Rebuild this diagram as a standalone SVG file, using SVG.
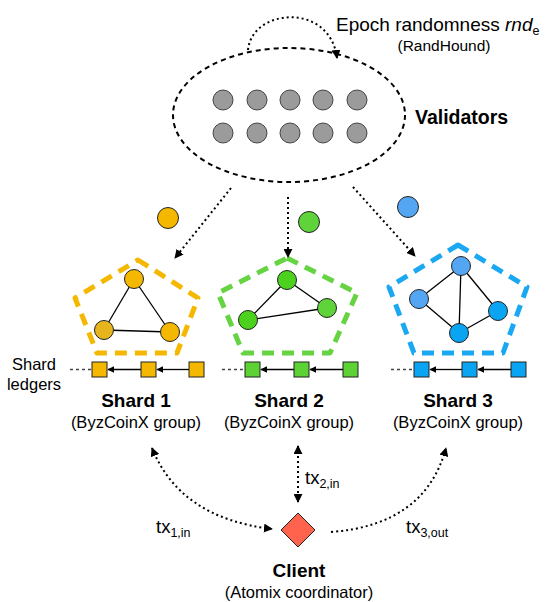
<svg xmlns="http://www.w3.org/2000/svg" width="552" height="602" viewBox="0 0 552 602">
<defs>
<marker id="ah" viewBox="0 0 10 10" refX="9" refY="5" markerWidth="9" markerHeight="9" markerUnits="userSpaceOnUse" orient="auto-start-reverse">
<path d="M0,0 L10,5 L0,10 z" fill="#000"/>
</marker>
<marker id="ahs" viewBox="0 0 10 10" refX="9" refY="5" markerWidth="7" markerHeight="7" markerUnits="userSpaceOnUse" orient="auto">
<path d="M0,0 L10,5 L0,10 z" fill="#000"/>
</marker>
</defs>
<style>
text{font-family:"Liberation Sans",Arial,Helvetica,sans-serif;fill:#000}
.b{font-weight:bold;font-size:19px}
.s{font-size:16.5px}
.dot{fill:none;stroke:#000;stroke-width:2;stroke-dasharray:2,3}
.val{fill:#9b9b9b;stroke:#444;stroke-width:1}
.n{stroke:#222;stroke-width:1}
.e{stroke:#000;stroke-width:1.3}
.pent{fill:none;stroke-width:5;stroke-dasharray:12,8;stroke-linejoin:round}
.sq{stroke:#222;stroke-width:1}
.lead{stroke:#444;stroke-width:1.3;stroke-dasharray:3,3}
.chain{stroke:#000;stroke-width:1.3}
.y{fill:#F5B800}
.g{fill:#5CD235}
.bl{fill:#0AA5F2}
</style>

<g id="validators">
<ellipse cx="289" cy="115" rx="116" ry="67" fill="none" stroke="#000" stroke-width="2" stroke-dasharray="5,4"/>
<circle class="val" cx="223" cy="100" r="10"/><circle class="val" cx="257" cy="100" r="10"/><circle class="val" cx="290" cy="100" r="10"/><circle class="val" cx="323" cy="100" r="10"/><circle class="val" cx="357" cy="100" r="10"/>
<circle class="val" cx="223" cy="133" r="10"/><circle class="val" cx="257" cy="133" r="10"/><circle class="val" cx="290" cy="133" r="10"/><circle class="val" cx="323" cy="133" r="10"/><circle class="val" cx="357" cy="133" r="10"/>
<text x="415" y="124" font-weight="bold" font-size="19.5">Validators</text>
</g>

<g id="epoch">
<text x="336" y="31" font-size="19">Epoch randomness <tspan font-style="italic">rnd</tspan><tspan font-size="12.5" dy="4">e</tspan></text>
<text x="444" y="51" font-size="15.5" text-anchor="middle">(RandHound)</text>
</g>

<g id="loose">
<circle cx="168" cy="218" r="10.5" class="n" fill="#F5B800"/>
<circle cx="309" cy="222" r="10.5" class="n" fill="#5FD33A"/>
<circle cx="408" cy="207" r="10.5" class="n" fill="#55A6F2"/>
</g>

<g id="shard1">
<polygon class="pent" stroke="#F5B800" points="138,260 198,298 177,353 97,353 75,298"/>
<line class="e" x1="134" y1="279" x2="104" y2="330"/><line class="e" x1="134" y1="279" x2="170" y2="332"/><line class="e" x1="104" y1="330" x2="170" y2="332"/>
<circle class="n" cx="134" cy="279" r="9.5" fill="#F5B800"/>
<circle class="n" cx="104" cy="330" r="9.5" fill="#E6B51E"/>
<circle class="n" cx="170" cy="332" r="9.5" fill="#F5B800"/>
<line class="lead" x1="70" y1="369.5" x2="91" y2="369.5"/>
<line class="chain" x1="189" y1="369.5" x2="157" y2="369.5" marker-end="url(#ahs)"/>
<line class="chain" x1="141" y1="369.5" x2="108" y2="369.5" marker-end="url(#ahs)"/>
<rect class="sq y" x="92" y="362" width="15" height="15"/><rect class="sq y" x="141" y="362" width="15" height="15"/><rect class="sq y" x="189" y="362" width="15" height="15"/>
<text x="136" y="407" class="b" text-anchor="middle">Shard 1</text>
<text x="136" y="428" class="s" text-anchor="middle">(ByzCoinX group)</text>
</g>

<g id="shard2">
<polygon class="pent" stroke="#66D343" points="287,258 357,293 330,353 243,353 218,293"/>
<line class="e" x1="287" y1="280" x2="248" y2="320"/><line class="e" x1="287" y1="280" x2="327" y2="308"/><line class="e" x1="248" y1="320" x2="327" y2="308"/>
<circle class="n" cx="287" cy="280" r="9.5" fill="#4CD21E"/>
<circle class="n" cx="327" cy="308" r="9.5" fill="#5FD33A"/>
<circle class="n" cx="248" cy="320" r="9.5" fill="#4CD21E"/>
<line class="lead" x1="222" y1="369.5" x2="244" y2="369.5"/>
<line class="chain" x1="343" y1="369.5" x2="310" y2="369.5" marker-end="url(#ahs)"/>
<line class="chain" x1="294" y1="369.5" x2="261" y2="369.5" marker-end="url(#ahs)"/>
<rect class="sq g" x="245" y="362" width="15" height="15"/><rect class="sq g" x="294" y="362" width="15" height="15"/><rect class="sq g" x="343" y="362" width="15" height="15"/>
<text x="289" y="407" class="b" text-anchor="middle">Shard 2</text>
<text x="289" y="428" class="s" text-anchor="middle">(ByzCoinX group)</text>
</g>

<g id="shard3">
<polygon class="pent" stroke="#1AA8F2" points="458,245 527,287 503,353 414,353 389,287"/>
<line class="e" x1="461" y1="266" x2="419" y2="299"/><line class="e" x1="461" y1="266" x2="459" y2="333"/><line class="e" x1="461" y1="266" x2="498" y2="311"/><line class="e" x1="419" y1="299" x2="459" y2="333"/><line class="e" x1="459" y1="333" x2="498" y2="311"/>
<circle class="n" cx="461" cy="266" r="9.5" fill="#55A6F2"/>
<circle class="n" cx="419" cy="299" r="9.5" fill="#55A6F2"/>
<circle class="n" cx="498" cy="311" r="9.5" fill="#0AA5F2"/>
<circle class="n" cx="459" cy="333" r="9.5" fill="#0AA5F2"/>
<line class="lead" x1="391" y1="369.5" x2="413" y2="369.5"/>
<line class="chain" x1="511" y1="369.5" x2="478" y2="369.5" marker-end="url(#ahs)"/>
<line class="chain" x1="462" y1="369.5" x2="430" y2="369.5" marker-end="url(#ahs)"/>
<rect class="sq bl" x="414" y="362" width="15" height="15"/><rect class="sq bl" x="462" y="362" width="15" height="15"/><rect class="sq bl" x="511" y="362" width="15" height="15"/>
<text x="458" y="407" class="b" text-anchor="middle">Shard 3</text>
<text x="458" y="428" class="s" text-anchor="middle">(ByzCoinX group)</text>
</g>

<g id="ledgers-label">
<text x="34" y="370" font-size="16.5" text-anchor="middle">Shard</text>
<text x="34" y="390" font-size="16.5" text-anchor="middle">ledgers</text>
</g>

<g id="client">
<polygon points="298,513 315,530 298,547 281,530" fill="#FF634D" stroke="#222" stroke-width="1"/>
<text x="299" y="577" class="b" text-anchor="middle">Client</text>
<text x="299" y="598" class="s" text-anchor="middle">(Atomix coordinator)</text>
</g>

<g id="connectors">
<path class="dot" d="M248,50 C252,8 330,2 337,58" marker-end="url(#ah)"/>
<line class="dot" x1="231" y1="188" x2="175" y2="258" marker-end="url(#ah)"/>
<line class="dot" x1="288" y1="197" x2="288" y2="257" marker-end="url(#ah)"/>
<line class="dot" x1="353" y1="187" x2="415" y2="256" marker-end="url(#ah)"/>
<line class="dot" x1="298" y1="446" x2="298" y2="502" marker-start="url(#ah)" marker-end="url(#ah)"/>
<path class="dot" d="M152,448 Q180,518 272,529" marker-start="url(#ah)" marker-end="url(#ah)"/>
<path class="dot" d="M331,532 Q425,525 446,448" marker-end="url(#ah)"/>
</g>

<g id="tx-labels">
<text x="156" y="533" font-size="18.5">tx<tspan font-size="12.5" dy="4">1,in</tspan></text>
<text x="305" y="484" font-size="18.5">tx<tspan font-size="12.5" dy="4">2,in</tspan></text>
<text x="406" y="533" font-size="18.5">tx<tspan font-size="12.5" dy="4">3,out</tspan></text>
</g>
</svg>
